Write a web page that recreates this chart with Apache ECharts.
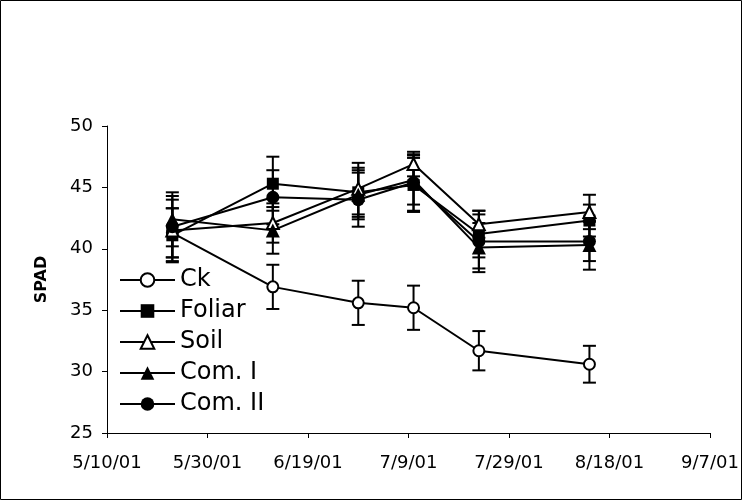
<!DOCTYPE html>
<html><head><meta charset="utf-8">
<script src="https://cdn.jsdelivr.net/npm/echarts@6/dist/echarts.min.js"></script>
<style>html,body{margin:0;padding:0;background:#fff}#c{width:742px;height:500px}</style>
</head><body><div id="c"></div>
<script>
const startDate = '2001-05-10';
const tickLabels = ['5/10/01','5/30/01','6/19/01','7/9/01','7/29/01','8/18/01','9/7/01'];
const sampleDates = ['2001-05-23','2001-06-12','2001-06-29','2001-07-10','2001-07-23','2001-08-14'];
const seriesNames = ['Ck','Foliar','Soil','Com. I','Com. II'];
const ck       = [41.3, 36.9, 35.6, 35.2, 31.7, 30.6];
const ckErr    = [2.0, 1.8, 1.8, 1.8, 1.6, 1.5];
const foliar   = [41.1, 45.3, 44.6, 45.2, 41.2, 42.3];
const foliarErr= [2.2, 2.2, 2.0, 2.2, 1.9, 1.3];
const soil     = [41.5, 42.1, 44.9, 46.9, 42.0, 43.0];
const soilErr  = [2.5, 1.6, 2.1, 1.0, 1.1, 1.4];
const comI     = [42.4, 41.5, 44.4, 45.6, 40.1, 40.3];
const comIErr  = [2.2, 1.9, 2.0, 2.0, 2.0, 2.0];
const comII    = [41.8, 44.2, 44.0, 45.4, 40.6, 40.6];
const comIIErr = [2.5, 2.2, 2.2, 2.3, 2.2, 1.6];

const days = sampleDates.map(d => (Date.parse(d) - Date.parse(startDate)) / 86400000);

const styles = [
  {symbol:'circle', size:11, item:{color:'#fff', borderColor:'#000', borderWidth:2}},
  {symbol:'rect', size:12, item:{color:'#000', borderColor:'#000', borderWidth:0}},
  {symbol:'triangle', size:12, item:{color:'#fff', borderColor:'#000', borderWidth:2}},
  {symbol:'triangle', size:14, item:{color:'#000', borderColor:'#000', borderWidth:0}},
  {symbol:'circle', size:13, item:{color:'#000', borderColor:'#000', borderWidth:0}}
];
const values = [ck, foliar, soil, comI, comII];
const errors = [ckErr, foliarErr, soilErr, comIErr, comIIErr];

function errSeries(name, vals, errs) {
  return {
    type: 'custom', name: name + ' err', silent: true, z: 1,
    data: vals.map((v, i) => [days[i], v - errs[i], v + errs[i]]),
    encode: {x: 0, y: [1, 2]},
    renderItem: (params, api) => {
      const x = api.value(0);
      const lo = api.coord([x, api.value(1)]);
      const hi = api.coord([x, api.value(2)]);
      const w = 6.5;
      const st = {stroke: '#000', lineWidth: 2};
      return {type: 'group', children: [
        {type: 'line', shape: {x1: lo[0], y1: lo[1], x2: hi[0], y2: hi[1]}, style: st},
        {type: 'line', shape: {x1: lo[0] - w, y1: lo[1], x2: lo[0] + w, y2: lo[1]}, style: st},
        {type: 'line', shape: {x1: hi[0] - w, y1: hi[1], x2: hi[0] + w, y2: hi[1]}, style: st}
      ]};
    }
  };
}

const series = [];
seriesNames.forEach((n, i) => series.push(errSeries(n, values[i], errors[i])));
seriesNames.forEach((n, i) => series.push({
  type: 'line', name: n, z: 3,
  data: values[i].map((v, j) => [days[j], v]),
  symbol: styles[i].symbol, symbolSize: styles[i].size,
  showAllSymbol: true,
  lineStyle: {color: '#000', width: 2},
  itemStyle: styles[i].item,
  emphasis: {disabled: true}
}));

const chart = echarts.init(document.getElementById('c'), null, {renderer: 'canvas'});
chart.setOption({
  animation: false,
  backgroundColor: '#fff',
  grid: {left: 107, right: 29, top: 126, bottom: 67, containLabel: false},
  xAxis: {
    type: 'value', min: 0, max: 120, interval: 20,
    axisLine: {onZero: false, lineStyle: {color: '#000', width: 1}},
    axisTick: {show: true, inside: false, length: 5, lineStyle: {color: '#000'}},
    splitLine: {show: false},
    axisLabel: {
      margin: 21, color: '#000', fontFamily: 'DejaVu Sans', fontSize: 18,
      showMinLabel: true, showMaxLabel: true,
      formatter: v => tickLabels[Math.round(v / 20)]
    }
  },
  yAxis: {
    type: 'value', min: 25, max: 50, interval: 5,
    name: 'SPAD', nameLocation: 'middle', nameGap: 57,
    nameTextStyle: {color: '#000', fontFamily: 'DejaVu Sans', fontWeight: 'bold', fontSize: 16},
    axisLine: {show: true, lineStyle: {color: '#000', width: 1}},
    axisTick: {show: true, inside: false, length: 5, lineStyle: {color: '#000'}},
    splitLine: {show: false},
    axisLabel: {margin: 14, color: '#000', fontFamily: 'DejaVu Sans', fontSize: 18}
  },
  legend: {
    data: seriesNames, orient: 'vertical', left: 119, top: 268, padding: 0,
    itemWidth: 55, itemHeight: 17, itemGap: 7, selectedMode: false,
    textStyle: {color: '#000', fontFamily: 'DejaVu Sans', fontSize: 24, lineHeight: 24}
  },
  graphic: [{
    type: 'rect', silent: true, z: 100,
    shape: {x: 0.5, y: 0.5, width: 741, height: 499},
    style: {fill: 'none', stroke: '#000', lineWidth: 1}
  }],
  series: series
});
</script>
</body></html>
